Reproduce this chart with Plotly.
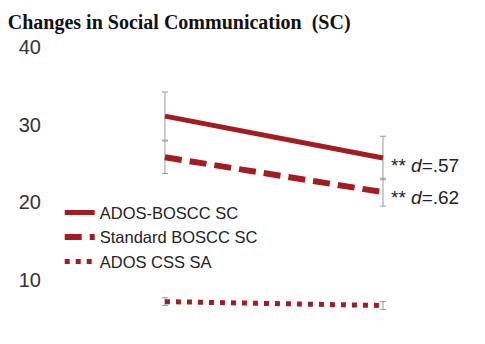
import plotly.graph_objects as go

time_points = [0, 1]
series_names = ["ADOS-BOSCC SC", "Standard BOSCC SC", "ADOS CSS SA"]
ados_boscc = [31.1, 25.7]
ados_boscc_err = [3.1, 2.8]
standard_boscc = [25.8, 21.3]
standard_boscc_err = [2.1, 1.8]
ados_css = [7.2, 6.7]
ados_css_err = [0.5, 0.5]
effect_labels = ["** <i>d</i>=.57", "** <i>d</i>=.62"]
effect_y = [24.8, 20.6]
y_ticks = [10, 20, 30, 40]

RED = "#A11D21"
fig = go.Figure()
styles = [("solid", 5), ("17px,8px", 6), ("5px,6px", 5)]
for name, vals, errs, (dash, w) in zip(series_names,
                                        [ados_boscc, standard_boscc, ados_css],
                                        [ados_boscc_err, standard_boscc_err, ados_css_err],
                                        styles):
    fig.add_trace(go.Scatter(
        x=time_points, y=vals, name=name, mode="lines",
        line=dict(color=RED, width=w, dash=dash),
        error_y=dict(type="data", array=errs, color="#9a9a9a", thickness=1, width=3),
    ))

for lab, yv in zip(effect_labels, effect_y):
    fig.add_annotation(x=1, y=yv, xref="x", yref="y", text=lab, showarrow=False,
                       xanchor="left", yanchor="middle", xshift=6,
                       font=dict(family="Arial, Liberation Sans", size=19, color="#222"))

fig.update_layout(
    width=485, height=344,
    margin=dict(l=42, r=0, t=47, b=2),
    plot_bgcolor="white", paper_bgcolor="white",
    title=dict(text="<b>Changes in Social Communication  (SC)</b>",
               x=0.016, xanchor="left", y=0.936, yanchor="middle", xref="container", yref="container",
               font=dict(family="Liberation Serif, Times New Roman", size=20, color="#111")),
    xaxis=dict(range=[-0.564, 1.468], showgrid=False, zeroline=False, showline=False,
               showticklabels=False, ticks=""),
    yaxis=dict(range=[2, 40], tickvals=y_ticks, showgrid=False, zeroline=False, showline=False,
               ticks="", tickfont=dict(family="Arial, Liberation Sans", size=20, color="#333")),
    legend=dict(x=0.04, y=0.497, xanchor="left", yanchor="top", xref="paper", yref="paper",
                bgcolor="rgba(0,0,0,0)", tracegroupgap=0,
                font=dict(family="Arial, Liberation Sans", size=16.5, color="#222")),
    showlegend=True,
)
fig.write_html("out.html")
